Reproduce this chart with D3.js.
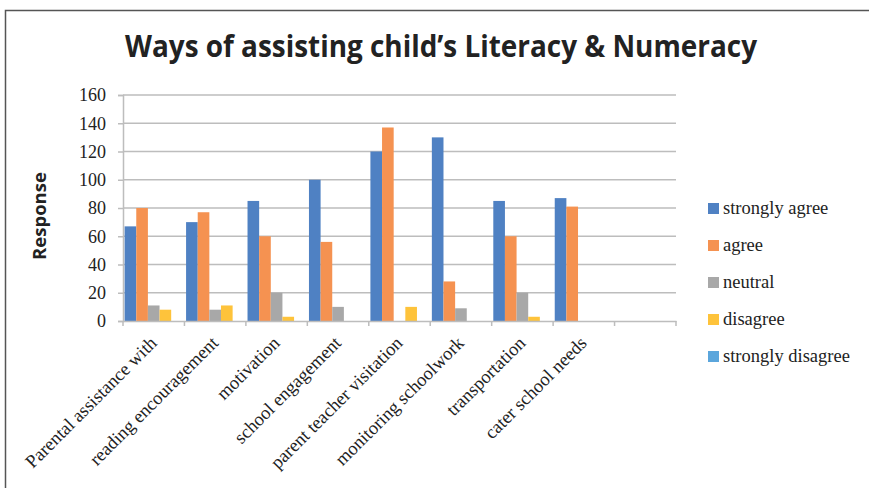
<!DOCTYPE html>
<html>
<head>
<meta charset="utf-8">
<script src="https://cdn.jsdelivr.net/npm/d3@7"></script>
<style>
  body { margin: 0; background: #fff; }
  svg { display: block; }
</style>
</head>
<body>
<svg width="869" height="488"></svg>
<script>
const categories = ['Parental assistance with', 'reading encouragement', 'motivation', 'school engagement',
  'parent teacher visitation', 'monitoring schoolwork', 'transportation', 'cater school needs', ''];
const seriesNames = ['strongly agree', 'agree', 'neutral', 'disagree', 'strongly disagree'];
const stronglyAgree = [67, 70, 85, 100, 120, 130, 85, 87, 0];
const agree = [80, 77, 60, 56, 137, 28, 60, 81, 0];
const neutral = [11, 8, 20, 10, 0, 9, 20, 0, 0];
const disagree = [8, 11, 3, 0, 10, 0, 3, 0, 0];
const stronglyDisagree = [0, 0, 0, 0, 0, 0, 0, 0, 0];
const yTicks = [0, 20, 40, 60, 80, 100, 120, 140, 160];
const colors = ['#4f81c3', '#f59251', '#a8a8a8', '#fec33b', '#5ba6dc'];

const allSeries = [stronglyAgree, agree, neutral, disagree, stronglyDisagree];

const svg = d3.select('svg');
const serif = '"Liberation Serif", "DejaVu Serif", serif';

// frame
svg.append('path')
  .attr('d', 'M5.5,488 V10.5 H869')
  .attr('fill', 'none')
  .attr('stroke', '#555')
  .attr('stroke-width', 1.5);

svg.append('text')
  .attr('x', 441)
  .attr('y', 57)
  .attr('text-anchor', 'middle')
  .attr('font-family', '"Open Sans", sans-serif')
  .attr('font-weight', 'bold')
  .attr('font-size', 31)
  .attr('textLength', 632)
  .attr('lengthAdjust', 'spacingAndGlyphs')
  .attr('fill', '#222')
  .text('Ways of assisting child’s Literacy & Numeracy');

const x = d3.scaleBand().domain(categories.map((c, i) => i)).range([123, 676]).paddingInner(0).paddingOuter(0);
const y = d3.scaleLinear().domain([0, 160]).range([321, 95]);
const xs = d3.scaleBand().domain(d3.range(seriesNames.length)).range([0, x.bandwidth()]).paddingOuter(0.14).paddingInner(0);

// gridlines
svg.append('g')
  .selectAll('line')
  .data(yTicks.slice(1))
  .join('line')
  .attr('x1', 123).attr('x2', 676)
  .attr('y1', d => y(d)).attr('y2', d => y(d))
  .attr('stroke', '#bdbdbd')
  .attr('stroke-width', 1.5);

// y axis
const yAxis = svg.append('g')
  .attr('transform', 'translate(123,0)')
  .call(d3.axisLeft(y).tickValues(yTicks).tickSize(5).tickPadding(12));
yAxis.select('.domain').attr('stroke', '#bdbdbd').attr('stroke-width', 1.5);
yAxis.selectAll('.tick line').attr('stroke', '#bdbdbd').attr('stroke-width', 1.5);
yAxis.selectAll('.tick text')
  .attr('font-family', serif)
  .attr('font-size', 18)
  .attr('fill', '#222');

// bars
const groups = svg.append('g')
  .selectAll('g')
  .data(categories.map((c, i) => i))
  .join('g')
  .attr('transform', i => `translate(${x(i)},0)`);

groups.selectAll('rect')
  .data(i => allSeries.map((s, k) => ({ k, v: s[i] })))
  .join('rect')
  .attr('x', d => xs(d.k))
  .attr('width', xs.bandwidth())
  .attr('y', d => y(d.v))
  .attr('height', d => y(0) - y(d.v))
  .attr('fill', d => colors[d.k]);

// x axis
const xAxis = svg.append('g')
  .attr('transform', 'translate(0,321)')
  .call(d3.axisBottom(x).tickSize(0).tickFormat(i => categories[i]));
xAxis.select('.domain').attr('stroke', '#bdbdbd').attr('stroke-width', 1.5);
xAxis.selectAll('.tick text')
  .attr('font-family', serif)
  .attr('font-size', 18.5)
  .attr('fill', '#222')
  .attr('text-anchor', 'end')
  .attr('dy', 0)
  .attr('transform', 'translate(2,21) rotate(-45)');
svg.append('g')
  .selectAll('line')
  .data(d3.range(categories.length + 1))
  .join('line')
  .attr('x1', i => i < categories.length ? x(i) : x.range()[1])
  .attr('x2', i => i < categories.length ? x(i) : x.range()[1])
  .attr('y1', 321).attr('y2', 326)
  .attr('stroke', '#bdbdbd')
  .attr('stroke-width', 1.5);

// y label
svg.append('text')
  .attr('transform', 'translate(46,216) rotate(-90)')
  .attr('text-anchor', 'middle')
  .attr('font-family', '"Open Sans", sans-serif')
  .attr('font-weight', 'bold')
  .attr('font-size', 18.5)
  .attr('fill', '#222')
  .text('Response');

// legend
const legend = svg.append('g')
  .selectAll('g')
  .data(seriesNames)
  .join('g')
  .attr('transform', (d, i) => `translate(708,${208 + i * 37})`);
legend.append('rect')
  .attr('x', 0).attr('y', -5)
  .attr('width', 11).attr('height', 11)
  .attr('fill', (d, i) => colors[i]);
legend.append('text')
  .attr('x', 15)
  .attr('y', 6)
  .attr('font-family', serif)
  .attr('font-size', 18.5)
  .attr('fill', '#222')
  .text(d => d);
</script>
</body>
</html>
